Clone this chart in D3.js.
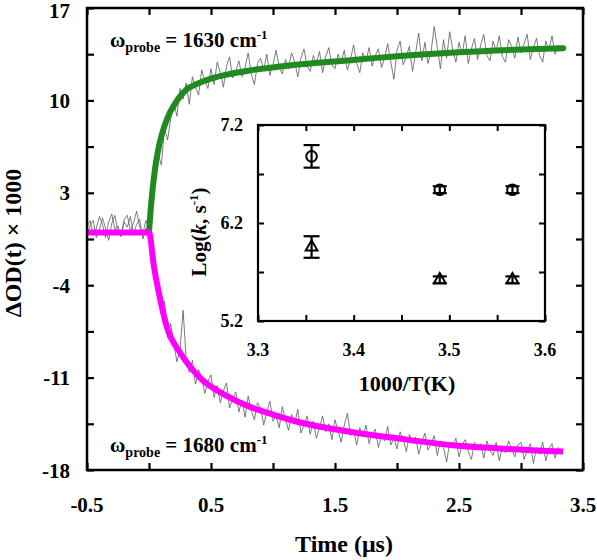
<!DOCTYPE html>
<html><head><meta charset="utf-8">
<script src="https://cdn.jsdelivr.net/npm/d3@7"></script>
<style>
body{margin:0;background:#fff}
text{font-family:"Liberation Serif","Times New Roman",serif;font-weight:bold;fill:#000}
</style>
</head><body><svg id="c" width="597" height="560"></svg>
<script>
// ---------------- data ----------------
const traceStart = -0.5, traceStep = 0.025; // sampling grid of the measured traces (µs)
const trace1630 = [
 0.4,0.9,-0.2,0.3,1.2,0.6,-0.4,0.8,1.4,0.2,0.5,-0.3,1.0,1.3,0.1,0.7,1.6,0.4,-0.1,0.9,
 0.3,1.8,4.2,5.9,5.1,7.9,7.0,8.6,9.9,8.8,
 10.9,10.1,11.3,9.7,11.8,11.0,10.4,12.3,11.5,10.9,
 12.4,11.2,12.9,12.1,11.0,12.6,13.3,11.7,12.2,13.0,
 11.8,12.5,13.6,12.0,11.2,12.8,13.2,12.3,13.5,11.9,
 12.7,13.8,12.5,12.0,13.1,12.4,13.6,12.9,11.8,13.2,
 13.9,12.6,12.2,13.4,12.8,13.7,12.1,13.3,14.0,12.7,
 12.4,13.5,12.9,13.8,12.3,13.1,14.2,12.8,12.1,13.6,
 13.0,14.0,12.6,13.4,13.9,12.5,13.2,14.3,12.9,11.6,
 13.8,14.5,12.7,13.3,14.1,12.2,13.6,15.1,13.0,14.4,
 12.8,13.7,15.6,14.0,12.4,14.6,13.2,15.2,13.8,12.9,
 14.4,13.5,14.9,12.8,13.9,14.7,13.1,14.2,15.0,13.4,
 13.0,14.5,13.7,14.9,13.3,12.9,14.6,14.1,13.2,14.8,
 13.6,14.3,15.0,13.1,14.0,14.7,13.4,12.9,14.5,13.8,
 14.9,13.5,14.2,13.9
];
const trace1680 = [
 -0.2,0.5,0.9,-0.4,0.2,1.1,0.3,-0.6,0.7,1.3,0.0,-0.3,0.8,0.4,1.2,-0.1,0.6,1.0,-0.5,0.3,
 -0.1,-1.3,-3.2,-4.1,-6.0,-5.2,-8.0,-6.9,-8.4,-9.8,
 -8.9,-5.9,-9.6,-10.6,-9.7,-11.5,-10.4,-11.0,-12.2,-11.3,
 -10.8,-12.5,-11.6,-12.9,-12.0,-11.4,-13.3,-12.6,-12.1,-13.6,
 -12.7,-14.0,-12.4,-13.5,-14.2,-12.9,-13.3,-14.6,-13.6,-12.8,
 -14.3,-13.9,-14.8,-13.2,-14.1,-15.0,-13.8,-14.5,-13.4,-15.2,
 -14.6,-13.9,-15.3,-14.3,-15.6,-14.8,-13.9,-15.1,-14.5,-15.7,
 -14.2,-15.0,-15.9,-14.6,-13.7,-15.4,-15.0,-16.1,-14.8,-15.5,
 -14.6,-16.0,-15.2,-14.9,-16.3,-15.4,-15.8,-14.7,-16.1,-15.6,
 -16.4,-15.1,-15.7,-16.6,-15.3,-16.0,-15.5,-16.8,-15.9,-15.2,
 -16.5,-16.0,-15.4,-16.9,-15.8,-16.3,-17.4,-15.9,-16.2,-15.6,
 -17.0,-16.1,-15.7,-16.6,-17.2,-15.9,-16.4,-16.0,-17.1,-15.8,
 -16.5,-16.9,-15.9,-17.3,-16.2,-16.7,-15.8,-16.4,-17.0,-16.1,
 -15.9,-17.2,-16.5,-16.0,-17.5,-16.3,-16.8,-15.9,-17.3,-16.4,
 -16.0,-17.1,-16.3,-16.6
];
const fit1630T = [0,0.01,0.025,0.05,0.075,0.1,0.15,0.2,0.3,0.4,0.5,0.65,0.8,1.0,1.25,1.5,1.75,2.0,2.5,3.0,3.34];
const fit1630V = [0,1.3,2.9,4.9,6.3,7.3,8.7,9.6,10.8,11.3,11.65,12.0,12.25,12.5,12.75,12.95,13.15,13.35,13.65,13.85,13.95];
const fit1680T = [-0.5,0,0.04,0.08,0.145,0.25,0.41,0.63,0.81,1.0,1.22,1.62,2.0,2.43,2.8,3.34];
const fit1680V = [0,0,-2.6,-4.6,-7.2,-9.1,-11.0,-12.4,-13.2,-13.8,-14.4,-15.1,-15.6,-16.1,-16.35,-16.6];

const xTickLabels = [-0.5, 0.5, 1.5, 2.5, 3.5];
const xTicksAll = [-0.5, 0, 0.5, 1, 1.5, 2, 2.5, 3, 3.5];
const yTickLabels = [17, 10, 3, -4, -11, -18];
const yTicksAll = [17, 13.5, 10, 6.5, 3, -0.5, -4, -7.5, -11, -14.5, -18];

// inset: Arrhenius data
const invT = [3.356, 3.49, 3.566];
const logkCircle = [6.88, 6.54, 6.54];
const errCircle = [0.115, 0.035, 0.035];
const logkTriangle = [5.955, 5.62, 5.62];
const errTriangle = [0.11, 0.035, 0.035];
const insetXTickLabels = [3.3, 3.4, 3.5, 3.6];
const insetXTicksAll = [3.3, 3.35, 3.4, 3.45, 3.5, 3.55, 3.6];
const insetYTickLabels = [7.2, 6.2, 5.2];
const insetYTicksAll = [7.2, 6.7, 6.2, 5.7, 5.2];

// ---------------- drawing ----------------
const svg = d3.select("#c");
const L = 87, R = 583, T = 8, B = 470;
const x = d3.scaleLinear().domain([-0.5, 3.5]).range([L, R]);
const y = d3.scaleLinear().domain([-18, 17]).range([B, T]);

function styleAxis(g, w) {
  g.select(".domain").remove();
  g.selectAll(".tick line").attr("stroke", "#000").attr("stroke-width", w);
}
const tk = 7;
svg.append("g").attr("transform", `translate(0,${B})`)
  .call(d3.axisBottom(x).tickValues(xTicksAll).tickSizeInner(-tk).tickSizeOuter(0).tickFormat(""))
  .call(g => styleAxis(g, 2.2));
svg.append("g").attr("transform", `translate(0,${T})`)
  .call(d3.axisTop(x).tickValues(xTicksAll).tickSizeInner(-tk).tickSizeOuter(0).tickFormat(""))
  .call(g => styleAxis(g, 2.2));
svg.append("g").attr("transform", `translate(${L},0)`)
  .call(d3.axisLeft(y).tickValues(yTicksAll).tickSizeInner(-tk).tickSizeOuter(0).tickFormat(""))
  .call(g => styleAxis(g, 2.2));
svg.append("g").attr("transform", `translate(${R},0)`)
  .call(d3.axisRight(y).tickValues(yTicksAll).tickSizeInner(-tk).tickSizeOuter(0).tickFormat(""))
  .call(g => styleAxis(g, 2.2));

// traces
const tOf = i => traceStart + i * traceStep;
const traceLine = d3.line().x((d, i) => x(tOf(i))).y(d => y(d));
[trace1630, trace1680].forEach(tr => {
  svg.append("path").attr("d", traceLine(tr)).attr("fill", "none")
    .attr("stroke", "#5a5a5a").attr("stroke-width", 0.8);
});
const fitLine = d3.line().curve(d3.curveMonotoneX).x(d => x(d[0])).y(d => y(d[1]));
svg.append("path").attr("d", fitLine(d3.zip(fit1630T, fit1630V))).attr("fill", "none")
  .attr("stroke", "#1f8a1f").attr("stroke-width", 6).attr("stroke-linecap", "round");
svg.append("path").attr("d", fitLine(d3.zip(fit1680T, fit1680V))).attr("fill", "none")
  .attr("stroke", "#ff00ff").attr("stroke-width", 6).attr("stroke-linecap", "butt");

// frame
svg.append("rect").attr("x", L).attr("y", T).attr("width", R - L).attr("height", B - T)
  .attr("fill", "none").attr("stroke", "#000").attr("stroke-width", 2.5);

// tick labels
svg.append("g").selectAll("text").data(xTickLabels).join("text")
  .attr("x", d => x(d)).attr("y", 512).attr("text-anchor", "middle")
  .attr("font-size", 21).text(d => d3.format(".1f")(d).replace("−", "-"));
svg.append("g").selectAll("text").data(yTickLabels).join("text")
  .attr("x", 70).attr("y", d => Math.max(y(d) + 7.5, 18)).attr("text-anchor", "end")
  .attr("font-size", 21).text(d => String(d));

// axis titles
svg.append("text").attr("x", 344).attr("y", 552).attr("text-anchor", "middle")
  .attr("font-size", 24).text("Time (μs)");
svg.append("text").attr("transform", "translate(21,243) rotate(-90)").attr("text-anchor", "middle")
  .attr("font-size", 24).text("ΔOD(t) × 1000");

// probe labels
function probeLabel(yy, num) {
  const t = svg.append("text").attr("x", 110).attr("y", yy).attr("font-size", 21);
  t.append("tspan").text("ω");
  t.append("tspan").attr("font-size", 14).attr("dy", 5).text("probe");
  t.append("tspan").attr("dy", -5).text(" = " + num + " cm");
  t.append("tspan").attr("font-size", 13).attr("dy", -8).text("-1");
}
probeLabel(47, "1630");
probeLabel(452, "1680");

// ---------------- inset ----------------
const iL = 258, iR = 545, iT = 125, iB = 321;
const ix = d3.scaleLinear().domain([3.3, 3.6]).range([iL, iR]);
const iy = d3.scaleLinear().domain([5.2, 7.2]).range([iB, iT]);
svg.append("rect").attr("x", iL).attr("y", iT).attr("width", iR - iL).attr("height", iB - iT)
  .attr("fill", "#fff");
const itk = 6;
svg.append("g").attr("transform", `translate(0,${iB})`)
  .call(d3.axisBottom(ix).tickValues(insetXTicksAll).tickSizeInner(-itk).tickSizeOuter(0).tickFormat(""))
  .call(g => styleAxis(g, 2));
svg.append("g").attr("transform", `translate(0,${iT})`)
  .call(d3.axisTop(ix).tickValues(insetXTicksAll).tickSizeInner(-itk).tickSizeOuter(0).tickFormat(""))
  .call(g => styleAxis(g, 2));
svg.append("g").attr("transform", `translate(${iL},0)`)
  .call(d3.axisLeft(iy).tickValues(insetYTicksAll).tickSizeInner(-itk).tickSizeOuter(0).tickFormat(""))
  .call(g => styleAxis(g, 2));
svg.append("g").attr("transform", `translate(${iR},0)`)
  .call(d3.axisRight(iy).tickValues(insetYTicksAll).tickSizeInner(-itk).tickSizeOuter(0).tickFormat(""))
  .call(g => styleAxis(g, 2));
svg.append("rect").attr("x", iL).attr("y", iT).attr("width", iR - iL).attr("height", iB - iT)
  .attr("fill", "none").attr("stroke", "#000").attr("stroke-width", 2.2);

svg.append("g").selectAll("text").data(insetXTickLabels).join("text")
  .attr("x", d => ix(d)).attr("y", 356).attr("text-anchor", "middle")
  .attr("font-size", 18).text(d => d.toFixed(1));
svg.append("g").selectAll("text").data(insetYTickLabels).join("text")
  .attr("x", 243).attr("y", d => iy(d) + 6).attr("text-anchor", "end")
  .attr("font-size", 18).text(d => d.toFixed(1));
svg.append("text").attr("x", 407).attr("y", 391).attr("text-anchor", "middle")
  .attr("font-size", 22).text("1000/T(K)");
const lk = svg.append("text").attr("transform", "translate(206,232) rotate(-90)")
  .attr("text-anchor", "middle").attr("font-size", 21);
lk.append("tspan").text("Log(");
lk.append("tspan").attr("font-style", "italic").text("k");
lk.append("tspan").text(", s");
lk.append("tspan").attr("font-size", 13).attr("dy", -8).text("-1");
lk.append("tspan").attr("dy", 8).text(")");

function errorBars(vals, errs, cap) {
  const g = svg.append("g").attr("stroke", "#000").attr("stroke-width", 2.2).attr("fill", "none");
  invT.forEach((t, i) => {
    const cx = ix(t), y1 = iy(vals[i] - errs[i]), y2 = iy(vals[i] + errs[i]);
    const c = errs[i] > 0.05 ? cap : cap - 1;
    g.append("line").attr("x1", cx).attr("x2", cx).attr("y1", y1).attr("y2", y2);
    g.append("line").attr("x1", cx - c).attr("x2", cx + c).attr("y1", y1).attr("y2", y1);
    g.append("line").attr("x1", cx - c).attr("x2", cx + c).attr("y1", y2).attr("y2", y2);
  });
}
errorBars(logkCircle, errCircle, 8);
errorBars(logkTriangle, errTriangle, 8);
svg.append("g").selectAll("circle").data(invT).join("circle")
  .attr("cx", d => ix(d)).attr("cy", (d, i) => iy(logkCircle[i])).attr("r", 5.3)
  .attr("fill", "none").attr("stroke", "#000").attr("stroke-width", 2);
const tri = d3.symbol().type(d3.symbolTriangle).size(60);
svg.append("g").selectAll("path").data(invT).join("path")
  .attr("transform", (d, i) => `translate(${ix(d)},${iy(logkTriangle[i])})`)
  .attr("d", tri).attr("fill", "none").attr("stroke", "#000").attr("stroke-width", 2);
</script></body></html>
